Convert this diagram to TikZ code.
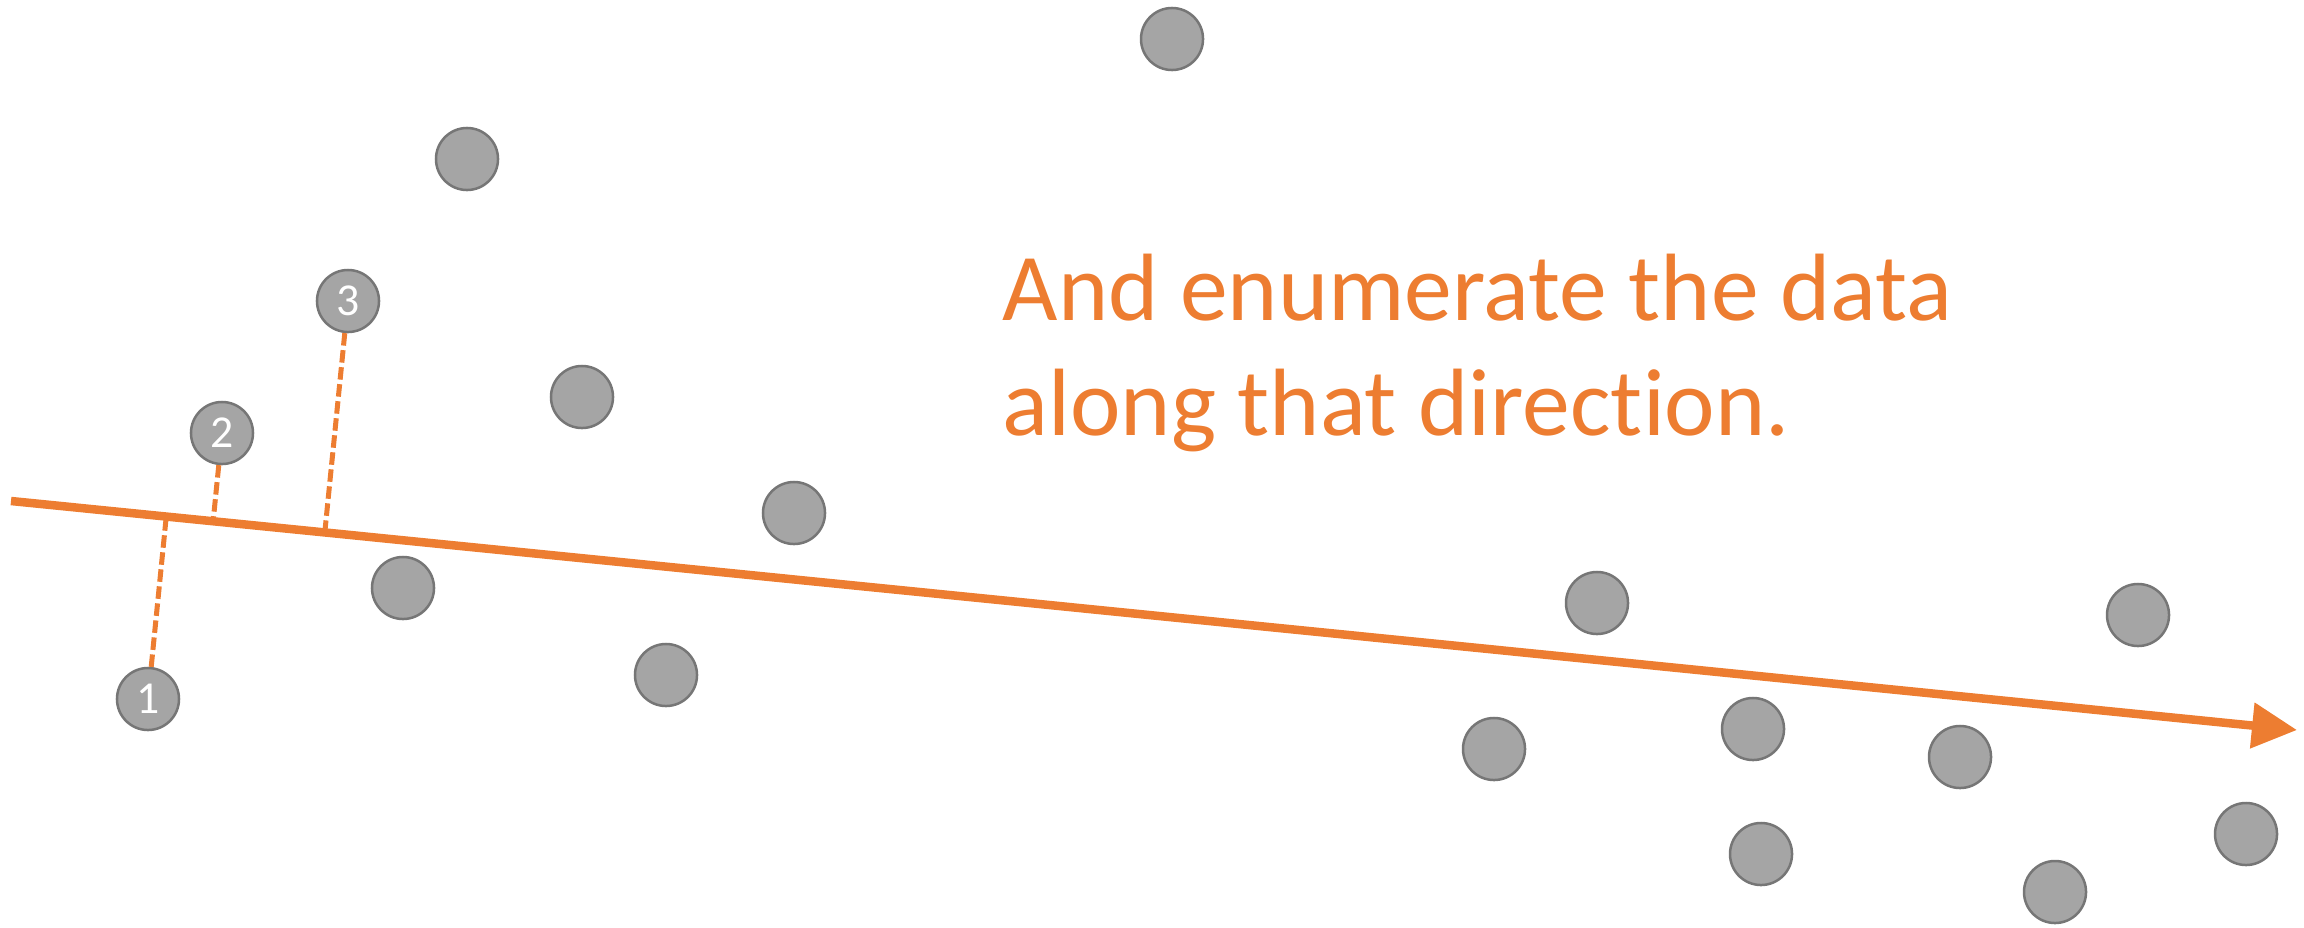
\documentclass[tikz,border=0pt]{standalone}
\usepackage{fontspec}
\setmainfont{Carlito}[Ligatures={NoCommon}]
\usetikzlibrary{arrows.meta,positioning,calc}
\definecolor{accent}{HTML}{ED7D31}
\definecolor{dotfill}{HTML}{A5A5A5}
\definecolor{dotline}{HTML}{767676}

\begin{document}
\begin{tikzpicture}[
		x=0.01cm, y=-0.01cm,
		dot/.style={circle, draw=dotline, line width=0.025cm, fill=dotfill,
			minimum size=0.62cm, inner sep=0pt, text=white,
			font=\fontsize{13}{14}\selectfont},
		arr/.style={-{Triangle[length=0.45cm, width=0.44cm]}, line width=0.085cm, draw=accent, fill=accent},
		proj/.style={draw=accent, line width=0.05cm, dash pattern=on 0.125cm off 0.046cm}
		]
		\useasboundingbox (0,0) rectangle (2304,927);
		
		\node[dot] (d1)  at (148,699)  {1};
		\node[dot] (d2)  at (222,433)  {2};
		\node[dot] (d3)  at (348,301)  {3};
		\node[dot] (d4)  at (467,159)  {};
		\node[dot] (d5)  at (582,397)  {};
		\node[dot] (d6)  at (794,513)  {};
		\node[dot] (d7)  at (403,588)  {};
		\node[dot] (d8)  at (666,675)  {};
		\node[dot] (d9)  at (1172,39)  {};
		\node[dot] (d10) at (1597,603) {};
		\node[dot] (d11) at (2138,615) {};
		\node[dot] (d12) at (1494,749) {};
		\node[dot] (d13) at (1753,729) {};
		\node[dot] (d14) at (1960,757) {};
		\node[dot] (d15) at (1761,854) {};
		\node[dot] (d16) at (2246,834) {};
		\node[dot] (d17) at (2055,892) {};
		
		\coordinate (tail) at (11,501);
		\coordinate (head) at (2297,730);
		
		\draw[proj] (d1) -- ($(tail)!(d1)!(head)$);
		\draw[proj] (d2) -- ($(tail)!(d2)!(head)$);
		\draw[proj] (d3) -- ($(tail)!(d3)!(head)$);
		\draw[arr] (tail) -- (head);
		
		\node[text=accent, font=\fontsize{27.2}{32.7}\selectfont, align=left,
			anchor=base west, inner sep=0pt] (msg) at (1002,435)
			{And enumerate the data\\along that direction.};
	\end{tikzpicture}
\end{document}
